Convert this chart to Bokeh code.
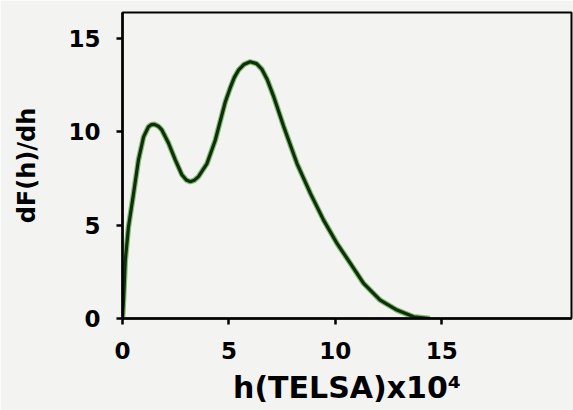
from bokeh.plotting import figure
from bokeh.models import Range1d, FixedTicker
from bokeh.embed import file_html
from bokeh.resources import INLINE

h_vals = [0.0, 0.05, 0.13, 0.28, 0.52, 0.75, 0.99, 1.22, 1.35, 1.5, 1.68, 1.85, 2.16,
          2.48, 2.79, 3.0, 3.18, 3.37, 3.57, 3.97, 4.36, 4.83, 5.06, 5.25, 5.45, 5.7,
          6.0, 6.3, 6.55, 6.8, 7.1, 7.57, 8.2, 8.83, 9.45, 10.08, 10.71, 11.33, 12.11,
          12.9, 13.68, 14.45]
dF_vals = [0.0, 0.98, 3.1, 4.9, 6.7, 8.5, 9.73, 10.27, 10.38, 10.4, 10.3, 10.1, 9.4,
           8.5, 7.7, 7.42, 7.33, 7.4, 7.6, 8.3, 9.55, 11.6, 12.35, 12.9, 13.3, 13.6,
           13.75, 13.65, 13.35, 12.8, 11.9, 10.3, 8.3, 6.7, 5.27, 4.02, 2.95, 1.88, 0.98,
           0.45, 0.09, 0.0]
x_ticks = [0, 5, 10, 15]
y_ticks = [0, 5, 10, 15]
x_title = "h(TELSA)x10\u2074"
y_title = "dF(h)/dh"

BG = "#f3f3f1"
FONT = "DejaVu Sans"

p = figure(width=573, height=410, output_backend="svg", toolbar_location=None,
           x_range=Range1d(0, 21.1), y_range=Range1d(0, 16.39),
           min_border_left=122, min_border_right=2, min_border_top=12, min_border_bottom=92)
p.background_fill_color = BG
p.border_fill_color = BG
p.outline_line_color = "black"
p.outline_line_width = 2
p.grid.visible = False

for ax, ticks, so in ((p.xaxis, x_ticks, 17), (p.yaxis, y_ticks, 16)):
    ax.ticker = FixedTicker(ticks=ticks)
    ax.axis_line_width = 2.5
    ax.axis_line_color = "black"
    ax.major_tick_line_width = 2.5
    ax.major_tick_out = 6
    ax.major_tick_in = 0
    ax.minor_tick_line_color = None
    ax.major_label_text_font = FONT
    ax.major_label_text_font_style = "bold"
    ax.major_label_text_font_size = "23px"
    ax.major_label_text_color = "black"
    ax.major_label_standoff = so
    ax.axis_label_text_font = FONT
    ax.axis_label_text_font_style = "bold"
    ax.axis_label_text_color = "black"

p.xaxis.axis_label = x_title
p.xaxis.axis_label_text_font_size = "30px"
p.xaxis.axis_label_standoff = 8
p.yaxis.axis_label = y_title
p.yaxis.axis_label_text_font_size = "24px"
p.yaxis.axis_label_standoff = 24

p.line(h_vals, dF_vals, line_color="#5aa03a", line_width=5.5, line_alpha=0.7)
p.line(h_vals, dF_vals, line_color="#0b300b", line_width=3.2)

open("out.html", "w").write(file_html(p, INLINE))
